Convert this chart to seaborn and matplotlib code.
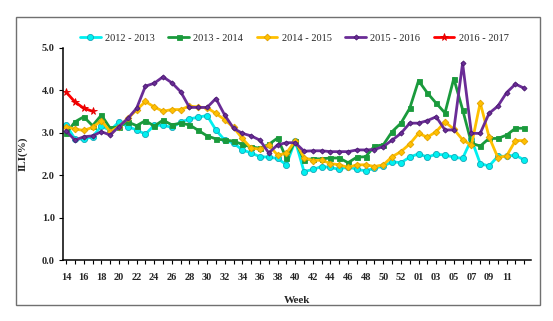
import matplotlib
matplotlib.use("Agg")
import matplotlib.pyplot as plt
import seaborn as sns
from matplotlib.patches import Rectangle

# Surveillance weeks: week 14 through week 53, then week 1 through week 13
weeks = list(range(14, 54)) + list(range(1, 14))

ili_2012_2013 = [3.18, 2.85, 2.84, 2.90, 3.15, 3.05, 3.25, 3.14, 3.06, 2.96,
                 3.17, 3.17, 3.12, 3.24, 3.32, 3.36, 3.40, 3.06, 2.82, 2.75,
                 2.59, 2.52, 2.43, 2.42, 2.39, 2.24, 2.81, 2.08, 2.13, 2.20,
                 2.18, 2.13, 2.20, 2.13, 2.10, 2.16, 2.21, 2.31, 2.29, 2.42,
                 2.50, 2.42, 2.49, 2.47, 2.42, 2.39, 2.84, 2.27, 2.21, 2.44,
                 2.44, 2.47, 2.35]
ili_2013_2014 = [2.98, 3.25, 3.37, 3.16, 3.41, 3.10, 3.14, 3.25, 3.16, 3.28,
                 3.15, 3.29, 3.18, 3.22, 3.18, 3.05, 2.92, 2.85, 2.82, 2.80,
                 2.72, 2.66, 2.63, 2.72, 2.87, 2.39, 2.80, 2.36, 2.38, 2.38,
                 2.40, 2.40, 2.29, 2.42, 2.43, 2.68, 2.71, 3.02, 3.22, 3.57,
                 4.22, 3.93, 3.69, 3.46, 4.27, 3.54, 2.75, 2.68, 2.86, 2.86,
                 2.94, 3.10, 3.10]
ili_2014_2015 = [3.14, 3.08, 3.05, 3.12, 3.28, 3.02, 3.14, 3.33, 3.53, 3.73,
                 3.60, 3.50, 3.54, 3.54, 3.62, 3.60, 3.58, 3.45, 3.30, 3.12,
                 2.86, 2.63, 2.61, 2.70, 2.47, 2.51, 2.81, 2.41, 2.34, 2.35,
                 2.27, 2.24, 2.18, 2.24, 2.24, 2.20, 2.24, 2.43, 2.55, 2.73,
                 2.98, 2.89, 3.02, 3.25, 3.08, 2.83, 2.70, 3.70, 2.90, 2.41,
                 2.45, 2.81, 2.81]
ili_2015_2016 = [3.04, 2.82, 2.90, 2.92, 3.02, 2.94, 3.14, 3.33, 3.57, 4.09,
                 4.16, 4.31, 4.17, 3.96, 3.59, 3.59, 3.59, 3.80, 3.41, 3.10,
                 2.98, 2.92, 2.82, 2.52, 2.71, 2.76, 2.76, 2.56, 2.57, 2.57,
                 2.55, 2.55, 2.55, 2.59, 2.59, 2.60, 2.67, 2.82, 2.98, 3.22,
                 3.22, 3.28, 3.37, 3.06, 3.06, 4.63, 2.98, 2.98, 3.45, 3.62,
                 3.94, 4.14, 4.04]
ili_2016_2017 = [3.95, 3.72, 3.57, 3.50]

seasons = ["2012 - 2013", "2013 - 2014", "2014 - 2015", "2015 - 2016", "2016 - 2017"]
series = [ili_2012_2013, ili_2013_2014, ili_2014_2015, ili_2015_2016, ili_2016_2017]
y_ticks = [0.0, 1.0, 2.0, 3.0, 4.0, 5.0]

# line colour, marker, marker size, marker edge colour
styles = [
    ("#00F0F0", "o", 4.4, "#14A8B8"),
    ("#1A9A3C", "s", 3.6, "#1A9A3C"),
    ("#FFC000", "D", 3.4, "#E0A000"),
    ("#6A2C96", "D", 2.6, "#4A1A70"),
    ("#FF0000", "*", 5.5, "#E00000"),
]

sns.set_theme(style="white")
plt.rcParams["font.family"] = ["Liberation Serif", "DejaVu Serif"]

fig = plt.figure(figsize=(5.53, 3.21), dpi=100)
ax = fig.add_axes([0.114, 0.19, 0.846, 0.662])

for name, vals, (col, mk, ms, mec) in zip(seasons, series, styles):
    pos = list(range(len(vals)))
    sns.lineplot(x=pos, y=vals, ax=ax, color=col, marker=mk, markersize=ms,
                 markeredgecolor=mec, markeredgewidth=0.6, linewidth=2.0,
                 label=name)

ax.set_xlim(-0.35, 52.75)
ax.set_ylim(0, 5.0)

major = list(range(0, 51, 2))
ax.set_xticks(major)
ax.set_xticks(range(len(weeks)), minor=True)
ax.set_xticklabels([str(weeks[i]) if weeks[i] >= 14 else f"{weeks[i]:02d}" for i in major],
                   fontsize=7.5, fontweight="bold")
ax.set_yticks(y_ticks)
ax.set_yticklabels([f"{v:.1f}" for v in y_ticks], fontsize=7.5, fontweight="bold")
ax.tick_params(axis="both", which="both", direction="out", color="black",
               length=3, width=0.8, bottom=True, left=True, pad=6)
ax.tick_params(axis="y", pad=3)

for side in ("top", "right"):
    ax.spines[side].set_visible(False)
for side in ("left", "bottom"):
    ax.spines[side].set_color("black")
    ax.spines[side].set_linewidth(1.1)

ax.set_xlabel("Week", fontsize=8, fontweight="bold")
ax.set_ylabel("ILI(%)", fontsize=8, fontweight="bold")
ax.xaxis.set_label_coords(0.5, -0.17)
ax.yaxis.set_label_coords(-0.075, 0.5)

ax.legend(loc="upper center", bbox_to_anchor=(0.532, 0.925),
          bbox_transform=fig.transFigure, ncol=5, frameon=False,
          fontsize=7.5, handlelength=2.0, columnspacing=1.3,
          handletextpad=0.4)

# outer chart frame
fig.patches.append(Rectangle((16 / 553, 1 - 305 / 321), 524 / 553, 288 / 321,
                             transform=fig.transFigure, fill=False,
                             edgecolor="#707070", linewidth=1.0))

fig.savefig("out.png", dpi=100)
